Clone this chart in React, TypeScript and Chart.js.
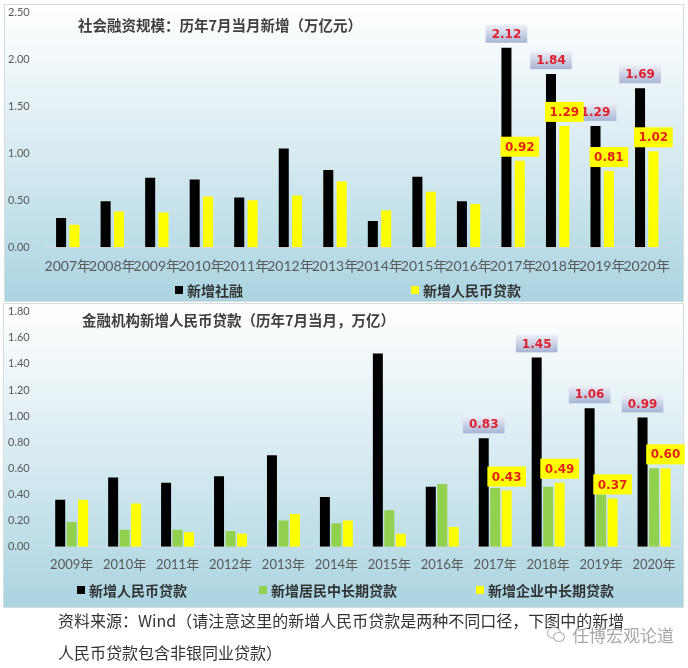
import React, { useEffect, useRef } from 'react';
import { Chart, registerables } from 'chart.js';

Chart.register(...registerables);

// ---------- data ----------
const topYears = ['2007年', '2008年', '2009年', '2010年', '2011年', '2012年', '2013年', '2014年', '2015年', '2016年', '2017年', '2018年', '2019年', '2020年'];
const tsfNew = [0.31, 0.49, 0.74, 0.72, 0.53, 1.05, 0.82, 0.28, 0.75, 0.49, 2.12, 1.84, 1.29, 1.69];
const tsfRmbLoans = [0.24, 0.38, 0.37, 0.54, 0.50, 0.55, 0.70, 0.39, 0.59, 0.46, 0.92, 1.29, 0.81, 1.02];

const bottomYears = ['2009年', '2010年', '2011年', '2012年', '2013年', '2014年', '2015年', '2016年', '2017年', '2018年', '2019年', '2020年'];
const newRmbLoans = [0.36, 0.53, 0.49, 0.54, 0.70, 0.38, 1.48, 0.46, 0.83, 1.45, 1.06, 0.99];
const householdMLT = [0.19, 0.13, 0.13, 0.12, 0.20, 0.18, 0.28, 0.48, 0.45, 0.46, 0.40, 0.60];
const corporateMLT = [0.36, 0.33, 0.11, 0.10, 0.25, 0.20, 0.10, 0.15, 0.43, 0.49, 0.37, 0.60];

const labeledYears = ['2017年', '2018年', '2019年', '2020年'];

const topTitle = '社会融资规模：历年7月当月新增（万亿元）';
const bottomTitle = '金融机构新增人民币贷款（历年7月当月，万亿）';
const topSeriesNames = ['新增社融', '新增人民币贷款'];
const bottomSeriesNames = ['新增人民币贷款', '新增居民中长期贷款', '新增企业中长期贷款'];

// ---------- styling ----------
const CJK = '"Noto Sans CJK SC"';
const TICK_FAMILY = 'Lato, "Noto Sans CJK SC", sans-serif';
const BLACK = '#000000';
const YELLOW = '#ffff00';
const GREEN = '#92d050';

type LabelSpec = { datasetIndex: number; style: 'blue' | 'yellow' };

const panelPlugin = {
  id: 'panelBg',
  beforeDraw(chart: any, _args: any, opts: any) {
    const { ctx, width, height } = chart;
    ctx.save();
    ctx.fillStyle = '#ffffff';
    ctx.fillRect(0, 0, width, height);
    const l = opts.left, t = opts.top, r = opts.right, b = opts.bottom;
    const g = ctx.createLinearGradient(0, t, 0, b);
    g.addColorStop(0, '#ffffff');
    g.addColorStop(0.45, '#dcedf3');
    g.addColorStop(1, '#aad4e1');
    ctx.fillStyle = g;
    ctx.fillRect(l, t, r - l, b - t);
    ctx.strokeStyle = '#d6dde0';
    ctx.lineWidth = 1;
    ctx.strokeRect(l + 0.5, t + 0.5, r - l - 1, b - t - 1);
    ctx.restore();
  },
};

const decorPlugin = {
  id: 'decor',
  afterDraw(chart: any, _args: any, opts: any) {
    const { ctx } = chart;
    ctx.save();
    // title
    ctx.font = `bold 14.5px ${CJK}`;
    ctx.fillStyle = '#404040';
    ctx.textAlign = 'left';
    ctx.textBaseline = 'middle';
    ctx.fillText(opts.title, opts.titleX, opts.titleY);
    // legend
    ctx.font = `bold 14px ${CJK}`;
    opts.legend.forEach((item: any, i: number) => {
      const ds = chart.data.datasets[i];
      ctx.fillStyle = ds.backgroundColor;
      ctx.fillRect(item.x, opts.legendY - 4, 8, 8);
      ctx.fillStyle = '#333333';
      ctx.fillText(ds.label, item.x + 12, opts.legendY + 1);
    });
    ctx.restore();
  },
};

const valueLabelPlugin = {
  id: 'valueLabels',
  afterDatasetsDraw(chart: any, _args: any, opts: any) {
    const { ctx } = chart;
    ctx.save();
    ctx.font = 'bold 12px "DejaVu Sans"';
    ctx.textAlign = 'center';
    ctx.textBaseline = 'middle';
    (opts.specs as LabelSpec[]).forEach((spec) => {
      const meta = chart.getDatasetMeta(spec.datasetIndex);
      const ds = chart.data.datasets[spec.datasetIndex];
      chart.data.labels.forEach((lab: string, i: number) => {
        if (!labeledYears.includes(lab)) return;
        const el = meta.data[i];
        const text = Number(ds.data[i]).toFixed(2);
        const tw = ctx.measureText(text).width;
        if (spec.style === 'blue') {
          const w = tw + 12, h = 18;
          const x = el.x - w / 2, y = el.y - 5 - h;
          const g = ctx.createLinearGradient(0, y, 0, y + h);
          g.addColorStop(0, '#eef1f8');
          g.addColorStop(1, '#a7b4d4');
          ctx.fillStyle = g;
          ctx.fillRect(x, y, w, h);
          ctx.fillStyle = '#e11f2f';
          ctx.fillText(text, el.x, y + h / 2 + 1);
        } else {
          const w = tw + 9, h = 20;
          const x = el.x - w / 2, y = el.y - 4 - h;
          ctx.fillStyle = YELLOW;
          ctx.fillRect(x, y, w, h);
          ctx.fillStyle = '#e2231a';
          ctx.fillText(text, el.x, y + h / 2 + 1);
        }
      });
    });
    ctx.restore();
  },
};

function makeOptions(cfg: any) {
  return {
    animation: false,
    responsive: false,
    maintainAspectRatio: false,
    layout: { padding: { left: 8, right: cfg.padRight, top: cfg.padTop, bottom: 0 } },
    plugins: {
      legend: { display: false },
      tooltip: { enabled: false },
      title: { display: false },
      panelBg: cfg.panel,
      decor: cfg.decor,
      valueLabels: { specs: cfg.specs },
    },
    scales: {
      x: {
        grid: { display: false, drawTicks: false },
        border: { display: true, color: '#d4dadd', width: 1 },
        ticks: {
          autoSkip: false,
          maxRotation: 0,
          padding: cfg.xPad,
          color: '#595959',
          font: { family: TICK_FAMILY, size: cfg.xFont },
        },
        afterFit: (s: any) => { s.height = cfg.xHeight; },
      },
      y: {
        min: 0,
        max: cfg.yMax,
        grid: { display: false, drawTicks: false },
        border: { display: false },
        ticks: {
          stepSize: cfg.yStep,
          crossAlign: 'far',
          color: '#595959',
          font: { family: TICK_FAMILY, size: 11 },
          callback: (v: any) => Number(v).toFixed(2),
        },
        afterFit: (s: any) => { s.width = cfg.yWidth; },
      },
    },
  };
}

function TopChart() {
  const ref = useRef<HTMLCanvasElement>(null);
  useEffect(() => {
    const chart = new Chart(ref.current as HTMLCanvasElement, {
      type: 'bar',
      data: {
        labels: topYears,
        datasets: [
          { label: topSeriesNames[0], data: tsfNew, backgroundColor: BLACK, categoryPercentage: 0.6, barPercentage: 0.75 },
          { label: topSeriesNames[1], data: tsfRmbLoans, backgroundColor: YELLOW, categoryPercentage: 0.6, barPercentage: 0.75 },
        ],
      },
      options: makeOptions({
        padRight: 19,
        padTop: 12,
        xPad: 11,
        xFont: 14,
        xHeight: 54.7,
        yMax: 2.5,
        yStep: 0.5,
        yWidth: 37.5,
        panel: { left: 4, top: 4, right: 684, bottom: 302 },
        decor: { title: topTitle, titleX: 78, titleY: 25, legendY: 290, legend: [{ x: 175 }, { x: 411 }] },
        specs: [{ datasetIndex: 0, style: 'blue' }, { datasetIndex: 1, style: 'yellow' }],
      }) as any,
      plugins: [panelPlugin, valueLabelPlugin, decorPlugin],
    });
    return () => chart.destroy();
  }, []);
  return <canvas ref={ref} width={688} height={302} style={{ position: 'absolute', left: 0, top: 0 }} />;
}

function BottomChart() {
  const ref = useRef<HTMLCanvasElement>(null);
  useEffect(() => {
    const chart = new Chart(ref.current as HTMLCanvasElement, {
      type: 'bar',
      data: {
        labels: bottomYears,
        datasets: [
          { label: bottomSeriesNames[0], data: newRmbLoans, backgroundColor: BLACK, categoryPercentage: 0.65, barPercentage: 0.87 },
          { label: bottomSeriesNames[1], data: householdMLT, backgroundColor: GREEN, categoryPercentage: 0.65, barPercentage: 0.87 },
          { label: bottomSeriesNames[2], data: corporateMLT, backgroundColor: YELLOW, categoryPercentage: 0.65, barPercentage: 0.87 },
        ],
      },
      options: makeOptions({
        padRight: 7.5,
        padTop: 9.7,
        xPad: 10,
        xFont: 13,
        xHeight: 61.3,
        yMax: 1.8,
        yStep: 0.2,
        yWidth: 37.2,
        panel: { left: 3, top: 1, right: 684, bottom: 306 },
        decor: { title: bottomTitle, titleX: 82, titleY: 18.7, legendY: 288, legend: [{ x: 77 }, { x: 259 }, { x: 476 }] },
        specs: [{ datasetIndex: 0, style: 'blue' }, { datasetIndex: 2, style: 'yellow' }],
      }) as any,
      plugins: [panelPlugin, valueLabelPlugin, decorPlugin],
    });
    return () => chart.destroy();
  }, []);
  return <canvas ref={ref} width={688} height={306} style={{ position: 'absolute', left: 0, top: 302 }} />;
}

export default function App() {
  return (
    <div style={{ position: 'absolute', left: 0, top: 0, width: 688, height: 668, background: '#ffffff', overflow: 'hidden' }}>
      <TopChart />
      <BottomChart />
      <div style={{ position: 'absolute', left: 58, top: 604, fontFamily: CJK, fontSize: 16, color: '#333333', lineHeight: '32px', whiteSpace: 'nowrap' }}>
        <div>资料来源：Wind（请注意这里的新增人民币贷款是两种不同口径，下图中的新增</div>
        <div>人民币贷款包含非银同业贷款）</div>
      </div>
      <div style={{ position: 'absolute', left: 546, top: 622, display: 'flex', alignItems: 'center', fontFamily: CJK, fontSize: 17, color: '#a8a8a8', whiteSpace: 'nowrap' }}>
        <svg width="20" height="18" viewBox="0 0 20 18" style={{ marginRight: 6 }}>
          <ellipse cx="8" cy="7" rx="6.5" ry="5.5" fill="none" stroke="#b4b4b4" strokeWidth="1.2" />
          <ellipse cx="13" cy="11" rx="5.5" ry="4.5" fill="#ffffff" stroke="#b4b4b4" strokeWidth="1.2" />
        </svg>
        <span>任博宏观论道</span>
      </div>
    </div>
  );
}
